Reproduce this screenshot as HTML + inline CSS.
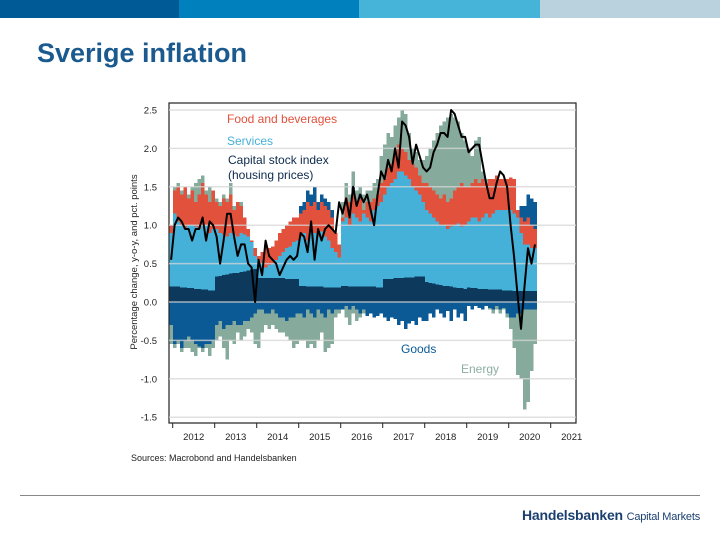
<!DOCTYPE html>
<html><head><meta charset="utf-8"><style>
body{margin:0;width:720px;height:540px;background:#fff;position:relative;overflow:hidden;font-family:"Liberation Sans",sans-serif}
.band{position:absolute;top:0;height:18px}
</style></head><body>
<div class="band" style="left:0;width:179px;background:#005a96"></div>
<div class="band" style="left:179px;width:180px;background:#0080bd"></div>
<div class="band" style="left:359px;width:181px;background:#45b4d8"></div>
<div class="band" style="left:540px;width:180px;background:#bad2de"></div>
<div style="position:absolute;left:37px;top:38px;font-size:27px;font-weight:bold;color:#1b5a8e">Sverige inflation</div>
<div style="position:absolute;left:20px;top:495px;width:680px;height:1px;background:#888"></div>
<div style="position:absolute;left:522px;top:507px;color:#1b3f6e;font-size:14px;font-weight:bold;letter-spacing:-0.2px">Handelsbanken <span style="font-size:11px;font-weight:normal">Capital Markets</span></div>
<svg id="chart" width="720" height="540" style="position:absolute;left:0;top:0"></svg>
<script>
const years=["2012","2013","2014","2015","2016","2017","2018","2019","2020","2021"];
const yTicks=[2.5,2.0,1.5,1.0,0.5,0.0,-0.5,-1.0,-1.5];
const capital=[.2,.2,.2,.19,.19,.18,.18,.17,.17,.16,.16,.15,.15,
.33,.34,.35,.36,.37,.38,.38,.39,.40,.41,.42,.43,
.31,.31,.31,.31,.31,.31,.31,.31,.30,.30,.30,.30,
.21,.21,.20,.20,.20,.20,.20,.19,.19,.19,.19,.19,
.21,.21,.2,.2,.2,.2,.2,.2,.2,.2,.19,.19,
.3,.3,.3,.31,.31,.31,.32,.32,.32,.33,.33,.33,
.26,.25,.24,.23,.22,.21,.21,.2,.19,.18,.18,.17,
.19,.18,.18,.17,.17,.17,.16,.16,.16,.16,.15,.15,
.15,.14,.14,.14,.14,.14,.14,.14];
const servicesTop=[.9,1.15,1.05,1.0,.95,1.0,1.0,.98,.95,1.0,1.0,.9,.95,
.95,.9,.88,.85,.9,.88,.85,.9,.88,.85,.78,.6,
.55,.5,.45,.48,.5,.55,.6,.65,.7,.72,.78,.8,
.85,.9,.8,.95,.9,.85,.92,.85,.8,.7,.65,.58,
1.05,1.1,1.0,1.15,1.1,1.05,1.15,1.1,1.05,1.2,1.25,1.3,
1.4,1.5,1.55,1.6,1.7,1.7,1.65,1.6,1.5,1.45,1.4,1.3,
1.2,1.15,1.1,1.05,1.0,1.0,.95,.98,1.0,1.02,.98,1.0,
1.05,1.1,1.1,1.05,1.1,1.15,1.1,1.15,1.2,1.2,1.2,1.2,
1.2,1.15,1.1,.9,.75,.75,.7,.7];
const foodTop=[1.0,1.45,1.5,1.4,1.5,1.35,1.45,1.3,1.4,1.55,1.4,1.3,1.45,
1.3,1.25,1.35,1.3,1.4,1.2,1.3,1.25,1.1,.95,.8,.7,
.6,.65,.75,.7,.72,.8,.9,.95,1.0,1.05,1.1,1.1,
1.15,1.2,1.3,1.25,1.3,1.2,1.3,1.25,1.2,1.1,.9,.75,
1.1,1.35,1.3,1.4,1.3,1.35,1.2,1.3,1.3,1.35,1.4,1.55,
1.6,1.75,1.8,1.9,2.05,2.0,1.95,1.85,1.8,1.75,1.65,1.55,
1.55,1.5,1.45,1.4,1.35,1.4,1.3,1.35,1.45,1.5,1.55,1.5,
1.5,1.55,1.6,1.55,1.6,1.55,1.6,1.6,1.65,1.6,1.6,1.6,
1.62,1.6,1.2,1.1,1.05,1.1,1.0,.95];
const goodsPosTop=[1.0,1.45,1.5,1.4,1.5,1.35,1.45,1.3,1.4,1.55,1.4,1.3,1.45,
1.3,1.25,1.35,1.3,1.4,1.2,1.3,1.25,1.1,.95,.8,.7,
.6,.65,.75,.7,.72,.8,.9,.95,1.0,1.05,1.1,1.1,
1.25,1.3,1.45,1.4,1.5,1.3,1.4,1.35,1.3,1.2,.9,.75,
1.1,1.35,1.3,1.5,1.3,1.4,1.2,1.3,1.3,1.35,1.4,1.55,
1.6,1.75,1.8,1.9,2.05,2.0,1.95,1.85,1.8,1.75,1.65,1.55,
1.55,1.5,1.45,1.4,1.35,1.4,1.3,1.35,1.45,1.5,1.55,1.5,
1.5,1.55,1.6,1.55,1.6,1.55,1.6,1.6,1.65,1.6,1.6,1.6,
1.62,1.6,1.2,1.25,1.25,1.4,1.35,1.3];
const energyPosTop=[1.0,1.5,1.55,1.45,1.5,1.4,1.5,1.55,1.6,1.65,1.45,1.5,1.45,
1.35,1.3,1.4,1.35,1.55,1.25,1.3,1.3,1.1,.95,.8,.7,
.6,.65,.75,.7,.72,.8,.9,.95,1.0,1.05,1.1,1.1,
1.25,1.3,1.45,1.4,1.5,1.3,1.4,1.35,1.3,1.2,.9,.75,
1.3,1.55,1.4,1.7,1.45,1.5,1.4,1.45,1.45,1.55,1.6,1.9,
2.05,2.2,2.15,2.3,2.4,2.5,2.45,2.2,2.0,1.95,1.85,1.85,
1.9,2.0,2.1,2.2,2.3,2.35,2.4,2.45,2.4,2.35,2.2,2.1,
2.0,1.9,2.1,2.15,1.7,1.6,1.6,1.6,1.65,1.6,1.6,1.6,
1.62,1.6,1.2,1.25,1.25,1.4,1.35,1.3];
const goodsNeg=[-.3,-.55,-.5,-.6,-.5,-.45,-.5,-.55,-.58,-.6,-.55,-.55,-.5,
-.3,-.25,-.35,-.3,-.3,-.25,-.3,-.3,-.25,-.25,-.2,-.15,
-.1,-.1,-.15,-.15,-.1,-.15,-.2,-.2,-.25,-.2,-.2,-.15,
-.15,-.2,-.1,-.15,-.2,-.1,-.15,-.2,-.1,-.15,-.1,-.1,
-.1,-.05,-.1,-.05,-.1,-.15,-.1,-.18,-.15,-.2,-.18,-.15,
-.2,-.25,-.2,-.22,-.3,-.25,-.35,-.28,-.25,-.3,-.2,-.25,
-.25,-.15,-.2,-.1,-.15,-.2,-.12,-.25,-.1,-.2,-.15,-.25,
-.05,-.1,-.05,-.08,-.1,-.05,-.08,-.1,-.05,-.1,-.08,-.15,
-.2,-.2,-.15,-.15,-.1,-.1,-.1,-.1];
const energyNegBottom=[-.55,-.6,-.55,-.65,-.6,-.6,-.65,-.7,-.6,-.65,-.6,-.7,-.6,
-.5,-.45,-.6,-.75,-.5,-.55,-.4,-.5,-.45,-.35,-.4,-.55,
-.6,-.4,-.3,-.35,-.3,-.35,-.4,-.4,-.45,-.5,-.6,-.55,
-.5,-.5,-.6,-.55,-.6,-.5,-.4,-.65,-.6,-.55,-.2,-.15,
-.1,-.2,-.3,-.15,-.25,-.2,-.15,-.18,-.15,-.2,-.18,-.15,
-.2,-.25,-.2,-.22,-.3,-.25,-.35,-.28,-.25,-.3,-.2,-.25,
-.25,-.15,-.2,-.1,-.15,-.2,-.12,-.25,-.1,-.2,-.15,-.25,
-.05,-.1,-.05,-.08,-.1,-.05,-.1,-.15,-.1,-.15,-.1,-.2,
-.35,-.6,-.95,-1.0,-1.4,-1.3,-.9,-.55];
const cpi=[.55,1.0,1.1,1.05,.95,.95,.8,.95,.95,1.1,.8,1.05,1.0,
.85,.5,.8,1.15,1.15,.85,.6,.75,.75,.5,.45,0,
.55,.35,.8,.6,.55,.5,.35,.45,.55,.6,.55,.6,
.9,.85,.65,1.05,.55,.95,.8,.95,1.0,.95,.9,1.3,
1.15,1.35,1.1,1.5,1.25,1.4,1.3,1.4,1.2,1.0,1.4,1.7,
1.6,1.85,1.7,2.0,1.75,2.35,2.3,2.15,1.8,2.05,1.9,1.75,
1.7,1.75,1.95,2.05,2.2,2.2,2.15,2.5,2.45,2.3,2.15,2.15,
1.95,2.0,2.05,2.05,1.8,1.55,1.35,1.35,1.55,1.7,1.65,1.5,
1.0,.6,.1,-.35,.2,.7,.5,.75];

const NS="http://www.w3.org/2000/svg";
const svg=document.getElementById('chart');
const L=169,T=103,R=576,B=423;
const y0=302,unit=76.8;
const yS=v=>y0-v*unit;
const barW=3.5, x0=169.3;
const xS=i=>x0+i*barW;
const yearX=k=>172.7+k*42;
function el(tag,attrs,parent){const e=document.createElementNS(NS,tag);for(const k in attrs)e.setAttribute(k,attrs[k]);(parent||svg).appendChild(e);return e;}
const frame=el('rect',{x:L,y:T,width:R-L,height:B-T,fill:'#fff',stroke:'#222','stroke-width':1.2});


const bars=el('g',{'shape-rendering':'crispEdges'});


function bar(i,a,b,col,name){
  if(Math.abs(a-b)<1e-6)return;
  const r=el('rect',{x:xS(i),y:yS(Math.max(a,b)),width:barW+0.3,height:Math.abs(a-b)*unit,fill:col},bars);
  
  
}
for(let i=0;i<cpi.length;i++){
  bar(i,energyPosTop[i],goodsPosTop[i],'#86ab9d','energy-bar');
  bar(i,goodsPosTop[i],foodTop[i],'#0b5a96','goods-bar');
  bar(i,foodTop[i],servicesTop[i],'#e2513c','food-bar');
  bar(i,servicesTop[i],capital[i],'#45b0d8','services-bar');
  bar(i,capital[i],0,'#0d3a5c','capital-bar');
  bar(i,0,goodsNeg[i],'#0b5a96','goods-bar');
  bar(i,goodsNeg[i],energyNegBottom[i],'#86ab9d','energy-bar');
}
yTicks.forEach(v=>{
  const g=el('line',{x1:L,x2:R,y1:yS(v),y2:yS(v),stroke:'#d6d6d6','stroke-width':1.5,'stroke-opacity':0.75});
  
  
  const t=el('text',{x:157,y:yS(v)+3.5,'text-anchor':'end','font-size':9.5,fill:'#222'});
  t.textContent=v.toFixed(1);
  
  
});
const pts=cpi.map((v,i)=>(xS(i)+barW/2).toFixed(1)+','+yS(v).toFixed(1)).join(' ');
const line=el('polyline',{points:pts,fill:'none',stroke:'#000','stroke-width':2,'stroke-linejoin':'round'});


years.forEach((yr,k)=>{
  const tk=el('line',{x1:yearX(k),x2:yearX(k),y1:B,y2:B+5,stroke:'#222'});
  
  
  const t=el('text',{x:yearX(k)+21,y:440,'text-anchor':'middle','font-size':9.5,fill:'#222'});
  t.textContent=yr;
  
  
});
const yt=el('text',{x:0,y:0,transform:'translate(137,262) rotate(-90)','text-anchor':'middle','font-size':9.5,fill:'#222'});
yt.textContent='Percentage change, y-o-y, and pct. points';


const src=el('text',{x:131,y:461,'font-size':9,fill:'#222'});
src.textContent='Sources: Macrobond and Handelsbanken';


const labels=[["Food and beverages",227,123,'#e2513c','legend-food'],["Services",227,145,'#45b0d8','legend-services'],["Capital stock index",228,164,'#0d2a4c','legend-capital'],["(housing prices)",228,179,'#0d2a4c','legend-capital-sub'],["Goods",401,353,'#0b5a96','legend-goods'],["Energy",461,373,'#8fada2','legend-energy']];
labels.forEach(l=>{
  const t=el('text',{x:l[1],y:l[2],'font-size':12,fill:l[3]});
  t.textContent=l[0];
  
  
});
</script>
</body></html>
